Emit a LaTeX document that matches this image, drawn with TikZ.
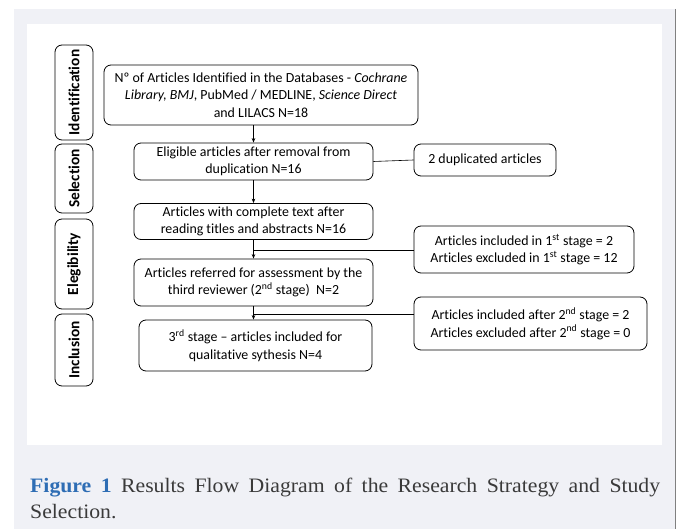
\documentclass[tikz,border=0pt]{standalone}
\usepackage{fontspec}
\setmainfont{Carlito}[Ligatures=NoCommon]
\newfontfamily\capfont{Liberation Serif}[FakeStretch=1.06]
\usetikzlibrary{arrows.meta}
\definecolor{pagegray}{HTML}{F0F1F6}
\definecolor{capblue}{HTML}{2E6DB4}
\definecolor{captext}{HTML}{3A3A3A}
\begin{document}
\begin{tikzpicture}[x=1pt, y=-1pt,
    stage/.style={rectangle, rounded corners=7pt, draw, line width=0.8pt, align=center,
        inner sep=0pt, font=\fontsize{13.9}{17.5}\selectfont},
    phase/.style={rectangle, rounded corners=7pt, draw, line width=0.8pt, rotate=90,
        inner sep=0pt, font=\fontsize{15.4}{16}\selectfont\bfseries},
    flow/.style={-{Stealth[length=4.5pt, width=3.5pt]}, line width=0.6pt},
    side/.style={line width=0.6pt}
]
    \useasboundingbox (0,0) rectangle (681,529);
    \fill[white] (0,0) rectangle (681,529);
    \fill[pagegray] (14,9) rectangle (675,529);
    \fill[white] (27,24) rectangle (662,445);
    \draw[gray, line width=1pt] (675,9) -- (675,529);

    % phase labels on the left
    \node[phase, minimum width=95pt, minimum height=38pt] (ident) at (74,92.5) {Identification};
    \node[phase, minimum width=69pt, minimum height=38pt] (sel) at (74,178.5) {Selection};
    \node[phase, minimum width=90pt, minimum height=38pt] (elig) at (74,264) {Elegibility};
    \node[phase, minimum width=72pt, minimum height=38pt] (incl) at (74,350) {Inclusion};

    % main column
    \node[stage, minimum width=314pt, minimum height=60pt] (db) at (261,95)
        {Nº of Articles Identified in the Databases - \textit{Cochrane}\\
         \textit{Library, BMJ}, PubMed / MEDLINE, \textit{Science Direct}\\
         and LILACS N=18};
    \node[stage, minimum width=239pt, minimum height=37pt] (elig1) at (253.5,161.5)
        {Eligible articles after removal from\\ duplication N=16};
    \node[stage, minimum width=239pt, minimum height=36pt] (full) at (253.5,221.5)
        {Articles with complete text after\\ reading titles and abstracts N=16};
    \node[stage, minimum width=239pt, minimum height=47pt] (third) at (253.5,282.5)
        {Articles referred for assessment by the\\ third reviewer (2\textsuperscript{nd} stage)\ \ N=2};
    \node[stage, minimum width=233pt, minimum height=51pt] (final) at (255.5,345.5)
        {3\textsuperscript{rd} stage -- articles included for\\ qualitative sythesis N=4};

    % boxes on the right
    \node[stage, minimum width=142pt, minimum height=32pt] (dup) at (485,160) {2 duplicated articles};
    \node[stage, minimum width=220pt, minimum height=47pt] (st1) at (524,249.5)
        {Articles included in 1\textsuperscript{st} stage = 2\\ Articles excluded in 1\textsuperscript{st} stage = 12};
    \node[stage, minimum width=233pt, minimum height=53pt] (st2) at (530.5,323.5)
        {Articles included after 2\textsuperscript{nd} stage = 2\\ Articles excluded after 2\textsuperscript{nd} stage = 0};

    \draw[flow] (db.south -| elig1.north) -- (elig1.north);
    \draw[flow] (elig1) -- (full);
    \draw[flow] (full) -- (third);
    \draw[flow] (third.south) -- (third.south |- final.north);

    \coordinate (j1) at (253.5,250);
    \coordinate (j2) at (253.5,314);
    \draw[side] (elig1.east) -- (dup.west);
    \draw[side] (j1) -- (j1 -| st1.west);
    \draw[side] (j2) -- (j2 -| st2.west);

    % caption
    \node[anchor=north west, inner sep=0pt, text width=630pt, align=justify,
          font=\capfont\fontsize{20.5}{26}\selectfont, text=captext] (cap) at (30,478)
        {{\bfseries\color{capblue}Figure 1} Results Flow Diagram of the Research Strategy and Study \mbox{Selection.}};
\end{tikzpicture}
\end{document}
